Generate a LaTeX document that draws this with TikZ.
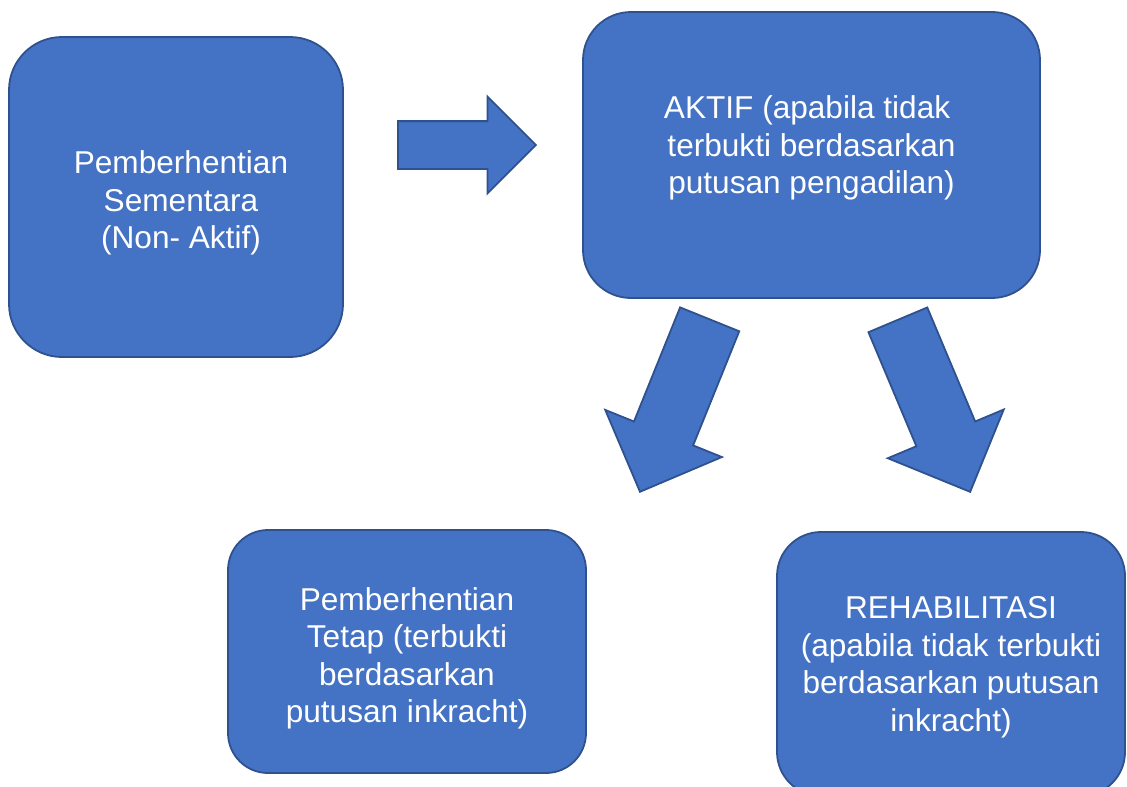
\documentclass[tikz,border=0pt]{standalone}
\usepackage{fontspec}
\setmainfont{Liberation Sans}
\usepackage{xcolor}
\usepackage{tikz}
\usetikzlibrary{positioning,shapes.arrows}
\definecolor{isiBiru}{HTML}{4472C4}
\definecolor{garisBiru}{HTML}{2F528F}

\begin{document}
\begin{tikzpicture}[x=1pt,y=-1pt]
            \tikzstyle{kotak}=[draw=garisBiru, line width=1.8pt, fill=isiBiru, inner sep=0pt]
            \tikzstyle{teks}=[text=white, align=center, inner sep=0pt, font=\fontsize{31.6}{37.5}\selectfont]
            \tikzstyle{panah}=[single arrow, draw=garisBiru, line width=1.8pt, fill=isiBiru, inner xsep=0pt, anchor=tail]

            \useasboundingbox (0,0) rectangle (1127,787);

            \node[kotak, minimum width=334pt, minimum height=320pt, rounded corners=53pt,
                label={[teks, xshift=5pt, yshift=-6pt]center:{Pemberhentian\\ Sementara\\ (Non- Aktif)}}] (nonaktif) at (176,197) {};
            \node[kotak, minimum width=457pt, minimum height=286pt, rounded corners=48pt,
                label={[teks, yshift=7pt]center:{AKTIF (apabila tidak\hspace*{0.28em}\\ terbukti berdasarkan\\ putusan pengadilan)}}] (aktif) at (811.5,155) {};
            \node[kotak, minimum width=358pt, minimum height=243pt, rounded corners=40pt,
                label={[teks, yshift=-7pt]center:{Pemberhentian\\ Tetap (terbukti\\ berdasarkan\\ putusan inkracht)}}] (tetap) at (407,651.5) {};
            \node[kotak, minimum width=348pt, minimum height=264pt, rounded corners=44pt,
                label={[teks, yshift=-3pt]center:{REHABILITASI\\ (apabila tidak terbukti\\ berdasarkan putusan\\ inkracht)}}] (rehab) at (951,664) {};

            % panah besar
            \node[panah, inner ysep=23pt, minimum height=138pt, single arrow head extend=24.5pt] (panahKanan) at (397,145) {};
            \node[panah, inner ysep=31pt, minimum height=186pt, single arrow head extend=31pt, rotate=248] (panahKiri) at (710,318.5) {};
            \node[panah, inner ysep=31pt, minimum height=186.6pt, single arrow head extend=31pt, rotate=292.8] (panahBawah) at (897.5,319) {};
        \end{tikzpicture}
\end{document}
